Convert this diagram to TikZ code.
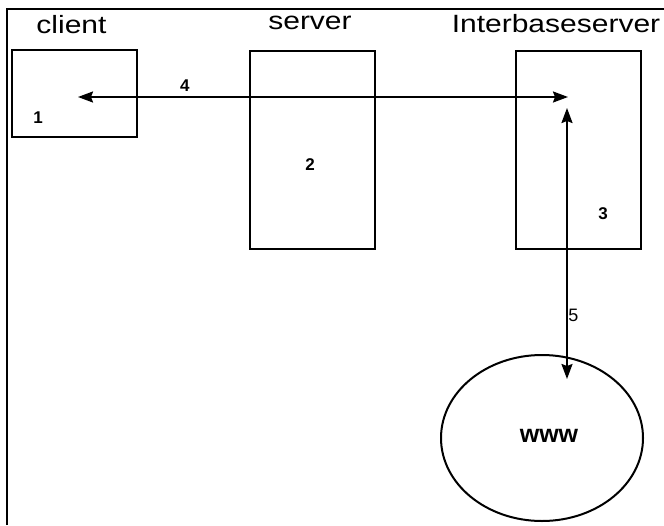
\documentclass[tikz,border=0pt]{standalone}
\usepackage{fontspec}
\setmainfont{Liberation Sans}
\newfontfamily\widefont[FakeStretch=1.2]{Liberation Sans}
\usetikzlibrary{arrows.meta,positioning,shapes.geometric}

\tikzset{
  box/.style={draw, line width=2pt, minimum width=125pt, minimum height=#1, inner sep=0pt},
  title/.style={font=\widefont\fontsize{25}{25}\selectfont, anchor=base},
  nr/.style={font=\bfseries\fontsize{17}{17}\selectfont},
  link/.style={line width=2pt, {Stealth[length=15pt,width=11pt,inset=2pt]}-{Stealth[length=15pt,width=11pt,inset=2pt]}}
}

\begin{document}
\begin{tikzpicture}[x=1pt, y=-1pt]
\useasboundingbox (0,0) rectangle (664,525);

% Frame (only top and left visible)
\draw[line width=2.2pt] (7,525) -- (7,9) -- (664,9);

% Boxes
\node[box=87pt] (client) at (74.5,93.5) {};
\node[box=198pt] (server) at (312.5,149.5) {};
\node[box=198pt] (ibserver) at (578,149.5) {};
\node[ellipse, draw, line width=2pt, minimum width=202pt, minimum height=166pt] (www) at (542,438) {};

% Titles
\node[title] (clienttitle) at (71.5,33) {client};
\node[title] (servertitle) at (310,29) {server};
\node[title] (ibtitle) at (556,32) {Interbaseserver};

% Numbers
\node[nr] (n1) at (38,118) {1};
\node[nr] (n2) at (310,165) {2};
\node[nr] (n3) at (603,214) {3};
\node[font=\fontsize{25}{25}\selectfont\bfseries] (wwwtext) at (549,436) {www};

% Connector end points
\coordinate (a) at (78,97);
\coordinate (b) at (568,97);
\coordinate (c) at (567,108);
\coordinate (d) at (567,379);

% Connectors
\draw[link] (a) -- (b) node[nr, pos=0.218, above=1pt] (n4) {4};
\draw[link] (c) -- (d) node[font=\fontsize{18}{18}\selectfont, pos=0.765, right=-3pt] (n5) {5};

\end{tikzpicture}
\end{document}
